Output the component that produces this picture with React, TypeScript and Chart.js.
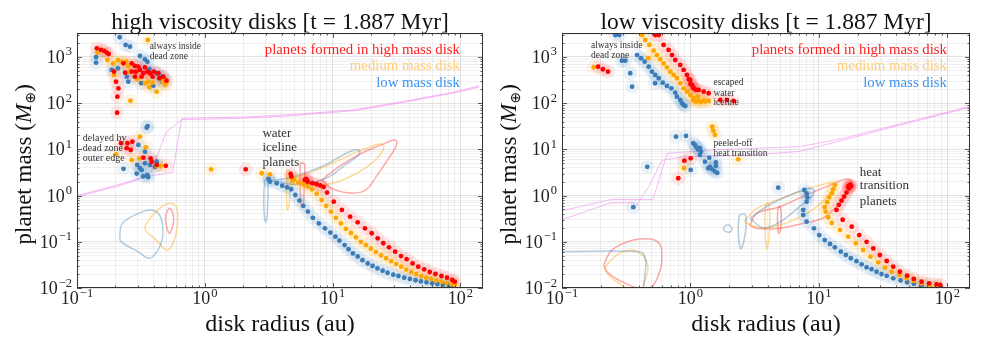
import React, { useEffect, useRef } from "react";
import { Chart, registerables } from "chart.js";
Chart.register(...registerables);

type P = [number, number];

// ---------- axes ----------
const X_MIN = 0.1;
const X_MAX = 150;
const Y_MIN = 0.01;
const Y_MAX = 3300;
const xTickExponents = [-1, 0, 1, 2];
const yTickExponents = [-2, -1, 0, 1, 2, 3];

const legendLabels = [
  { text: "planets formed in high mass disk", color: "#ff2020" },
  { text: "medium mass disk", color: "#ffcc77" },
  { text: "low mass disk", color: "#3b93ee" },
];

// ---------- high viscosity panel ----------
const hvRedPlanets: P[] = [
  [0.143, 1540], [0.154, 1420], [0.163, 1350], [0.171, 1240], [0.177, 1160], [0.231, 730], [0.268, 730],
  [0.284, 640], [0.238, 457], [0.268, 481], [0.289, 481], [0.311, 524], [0.33, 444], [0.355, 481],
  [0.372, 444], [0.284, 375], [0.32, 375], [0.4, 481], [0.433, 444], [0.473, 375], [0.501, 307],
  [0.441, 346], [0.195, 481], [0.202, 292], [0.211, 210], [0.207, 138], [0.206, 62], [0.302, 617],
  [0.34, 598], [0.39, 375],
  [0.221, 13.6], [0.248, 13.6], [0.271, 14.7], [0.245, 10.6], [0.263, 9.7], [0.33, 6.6], [0.377, 6.4],
  [0.384, 5.4], [0.42, 4.6], [0.495, 4.4],
  [2.09, 3.7], [4.69, 2.94], [4.75, 2.6],
  [6.05, 2.18], [6.2, 2.3], [6.3, 2.1], [6.4, 2.0], [6.95, 1.85], [7.5, 1.76], [8.0, 1.66], [8.5, 1.54],
  [9.03, 1.16], [10.2, 0.74], [11.8, 0.49], [13.7, 0.35], [15.7, 0.264], [17.9, 0.196], [20.2, 0.153],
  [22.5, 0.119], [24.9, 0.093], [27.6, 0.076], [30.8, 0.061], [34.3, 0.049], [37.9, 0.042], [42.2, 0.034],
  [46.7, 0.029], [52, 0.0254], [57.5, 0.0222], [63.7, 0.0201], [71, 0.0182], [78.5, 0.0167], [86.3, 0.0149],
  [90.2, 0.0137],
];
const hvOrangePlanets: P[] = [
  [0.145, 1240], [0.173, 860], [0.191, 730], [0.209, 860], [0.224, 790], [0.242, 790], [0.252, 640],
  [0.195, 408], [0.257, 481], [0.296, 329], [0.34, 270], [0.361, 292], [0.39, 278], [0.42, 177],
  [0.368, 221], [0.262, 113], [0.486, 270], [0.478, 318], [0.358, 2330], [0.49, 250], [0.47, 290],
  [0.311, 18.8], [0.346, 11.1], [0.202, 7.8], [0.268, 5.9], [0.308, 6.4], [0.42, 4.4], [0.451, 4.4],
  [1.12, 3.7], [2.79, 3.04], [3.23, 2.89], [4.8, 2.3], [4.9, 2.1], [5.0, 2.25],
  [5.4, 1.9], [5.9, 1.76], [6.4, 1.56], [6.9, 1.37], [7.5, 1.1], [8.2, 0.8], [8.9, 0.6], [9.7, 0.45],
  [10.6, 0.33], [11.6, 0.25], [12.7, 0.19], [13.9, 0.155], [15.2, 0.125], [16.6, 0.1], [18.2, 0.085],
  [19.9, 0.071], [21.8, 0.06], [23.9, 0.051], [26.2, 0.044], [28.7, 0.038], [31.4, 0.033], [34.4, 0.029],
  [37.6, 0.025], [41.2, 0.022], [45.1, 0.02], [49.4, 0.018], [54.1, 0.0166], [59.2, 0.0155], [64.8, 0.0145],
  [71, 0.0136], [77.7, 0.0128], [85, 0.0121], [90, 0.0117],
];
const hvBluePlanets: P[] = [
  [0.216, 2670], [0.24, 1820], [0.26, 1670], [0.141, 985], [0.141, 753], [0.311, 1050], [0.34, 890],
  [0.355, 790], [0.187, 524], [0.209, 569], [0.245, 375], [0.252, 292], [0.368, 542], [0.42, 444],
  [0.459, 375], [0.478, 346], [0.467, 292], [0.395, 239], [0.318, 270],
  [0.351, 29.5], [0.357, 32], [0.302, 12.5], [0.34, 8.9], [0.231, 3.8], [0.296, 4.6], [0.311, 3.9],
  [0.32, 3.6], [0.293, 3.0], [0.355, 2.8], [0.34, 5.0], [0.372, 4.6], [0.407, 4.2], [0.42, 5.4],
  [0.33, 2.6], [0.36, 2.5],
  [3.15, 2.3], [3.18, 2.18], [3.23, 2.0], [3.65, 1.85], [4.03, 1.64], [4.4, 1.51], [4.73, 1.37], [5.1, 1.03],
  [5.5, 0.78], [5.9, 0.6], [6.4, 0.45], [7.0, 0.33], [7.8, 0.25], [8.7, 0.196], [9.6, 0.158], [10.5, 0.129],
  [11.3, 0.106], [12.4, 0.085], [13.3, 0.069], [14.4, 0.056], [15.7, 0.048], [17.1, 0.04], [18.8, 0.034],
  [20.5, 0.03], [22.4, 0.0267], [24.6, 0.0237], [26.9, 0.0214], [29.8, 0.0194], [32.7, 0.0182], [36.3, 0.0167],
  [40.2, 0.0157], [44.5, 0.0147], [49, 0.0139], [54.2, 0.0133], [60, 0.0126], [66, 0.0122], [73, 0.0118],
  [81, 0.0114], [87.5, 0.011],
];
const hvRedContours: P[][] = [
  [[0.499, 0.414], [0.529, 0.531], [0.561, 0.414], [0.569, 0.272], [0.529, 0.153], [0.499, 0.231], [0.493, 0.323], [0.499, 0.414]],
  [[5.6, 5.0], [5.55, 2.0], [5.7, 0.55], [5.9, 0.7], [6.0, 2.0], [6.05, 4.5], [5.8, 5.2], [5.6, 5.0]],
  [[8.3, 2.2], [10, 3.4], [13, 5.5], [18, 9], [24, 12.5], [29, 15.5], [31.5, 15.5], [31, 11], [27, 6], [22, 2.6], [18, 1.3], [13, 1.15], [9.5, 1.5], [8.3, 2.2]],
];
const hvOrangeContours: P[][] = [
  [[0.338, 0.212], [0.381, 0.349], [0.443, 0.531], [0.529, 0.68], [0.597, 0.575], [0.614, 0.323], [0.597, 0.153], [0.546, 0.078], [0.499, 0.0665], [0.417, 0.109], [0.349, 0.166], [0.338, 0.212]],
  [[4.4, 3.6], [4.35, 1.5], [4.4, 0.49], [4.55, 0.6], [4.65, 1.5], [4.7, 3.2], [4.4, 3.6]],
  [[4.9, 2.4], [7, 3.3], [10, 5], [14, 7.8], [19, 11], [23, 13], [25, 12.4], [24.5, 9], [21, 5.5], [16, 3.2], [11, 2.0], [8, 1.7], [5.5, 1.9], [4.9, 2.4]],
];
const hvBlueContours: P[][] = [
  [[0.216, 0.109], [0.223, 0.231], [0.267, 0.349], [0.37, 0.488], [0.443, 0.38], [0.47, 0.166], [0.443, 0.078], [0.37, 0.044], [0.3, 0.061], [0.229, 0.093], [0.216, 0.109]],
  [[2.95, 2.2], [2.9, 1.2], [2.9, 0.5], [2.97, 0.27], [3.05, 0.3], [3.1, 0.6], [3.12, 1.5], [3.1, 2.2], [2.95, 2.2]],
  [[3.3, 2.1], [4.5, 2.4], [6.5, 3.3], [9, 4.8], [11.5, 7], [14, 9.2], [15.8, 9.8], [16.3, 8.5], [15, 6.5], [12, 4.2], [9.5, 2.6], [7, 1.9], [5, 1.75], [3.3, 2.1]],
];
const hvIceTracks: P[][] = [
  [[0.1, 1.0], [0.2, 1.65], [0.3, 2.3], [0.38, 2.7], [0.5, 3.0], [0.56, 3.2], [0.66, 47], [2, 50], [5, 57], [15, 72], [40, 115], [100, 185], [140, 240]],
  [[0.1, 0.95], [0.2, 1.55], [0.3, 2.2], [0.38, 3.3], [0.5, 24], [0.66, 44], [2, 47], [5, 54], [15, 69], [40, 110], [100, 178], [140, 225]],
];

// ---------- low viscosity panel ----------
const lvRedPlanets: P[] = [
  [0.191, 617], [0.208, 542], [0.228, 481],
  [0.532, 2990], [0.566, 2990], [0.618, 1820], [0.676, 1420], [0.718, 1100], [0.762, 860], [0.833, 672],
  [0.885, 524], [0.939, 408], [0.97, 330], [0.996, 318], [1.0, 260], [1.027, 248], [1.05, 220], [1.059, 210],
  [1.1, 195], [1.158, 193], [1.267, 177], [1.386, 164], [1.706, 117], [1.92, 117], [2.17, 112],
  [1.004, 6.4], [0.896, 5.7], [0.804, 2.37],
  [17.0, 1.65], [17.4, 1.56], [17.6, 1.72], [17.8, 1.6], [17.2, 1.45], [16.9, 1.5], [16.4, 1.16], [15.7, 0.95],
  [15.0, 0.78], [14.3, 0.63], [13.7, 0.49], [15.3, 0.3], [18.0, 0.212], [20.6, 0.14], [23.5, 0.1], [26.5, 0.072],
  [29.8, 0.0518], [33.7, 0.0384], [37.9, 0.0289], [42.7, 0.0225], [48.6, 0.0185], [54.8, 0.0157], [63, 0.0137],
  [72.1, 0.0126], [82.4, 0.012], [88, 0.0116],
];
const lvOrangePlanets: P[] = [
  [0.177, 598],
  [0.42, 2990], [0.445, 2330], [0.478, 1820], [0.47, 940], [0.517, 1370], [0.548, 1100], [0.582, 890],
  [0.618, 730], [0.656, 598], [0.697, 481], [0.74, 408], [0.785, 346], [0.833, 270], [0.885, 210], [0.939, 177],
  [0.996, 150], [1.059, 128], [1.143, 138], [1.05, 115], [1.1, 108], [1.158, 113], [1.2, 105], [1.267, 113],
  [1.3, 110], [1.386, 112],
  [1.478, 31], [1.504, 25.4], [1.552, 20.5], [2.355, 6.1], [0.89, 3.9],
  [13.3, 1.69], [12.9, 1.37], [12.6, 1.12], [12.0, 0.92], [11.6, 0.72], [11.1, 0.56], [11.3, 0.45], [11.8, 0.34],
  [12.6, 0.255], [14.6, 0.18], [16.9, 0.129], [19.4, 0.093], [22.1, 0.0665], [25.2, 0.0476], [28.9, 0.036],
  [32.6, 0.0275], [36.8, 0.0225], [42.2, 0.0191], [48.1, 0.0162], [54.8, 0.0142], [63, 0.0126], [72.1, 0.0116],
  [82.4, 0.0109],
];
const lvBluePlanets: P[] = [
  [0.293, 832], [0.311, 832], [0.34, 444], [0.351, 227], [0.26, 2990], [0.279, 2990],
  [0.384, 1100], [0.412, 937], [0.44, 790], [0.473, 617], [0.501, 481], [0.532, 408], [0.566, 346],
  [0.608, 278], [0.656, 236], [0.71, 210], [0.762, 169], [0.785, 138], [0.833, 117], [0.859, 99.5],
  [0.885, 91], [0.912, 87], [0.53, 270],
  [0.771, 18.8], [0.923, 19.5], [1.052, 13.6], [1.084, 12.5], [1.117, 11.1], [1.15, 10.0], [1.185, 10.6],
  [1.207, 8.9], [1.185, 7.6], [1.297, 5.4], [1.4, 6.6], [1.578, 5.2], [1.578, 4.4], [1.418, 4.2], [1.376, 3.9],
  [1.478, 3.7], [1.552, 3.3], [1.617, 3.1], [1.004, 3.6], [0.461, 4.2], [0.359, 0.56], [4.82, 1.48],
  [7.69, 1.32], [8.02, 1.12], [8.11, 0.92], [8.02, 0.74], [7.55, 0.49], [7.55, 0.38], [8.02, 0.272],
  [9.14, 0.196], [10.05, 0.14], [11.1, 0.109], [12.2, 0.09], [13.3, 0.076], [14.8, 0.061], [16.2, 0.0518],
  [17.7, 0.044], [19.6, 0.038], [21.5, 0.0326], [23.5, 0.028], [25.7, 0.0255], [28.1, 0.0225], [30.7, 0.02],
  [33.7, 0.0183], [37.9, 0.0162], [43.2, 0.0146], [48.6, 0.0133], [54.8, 0.0123], [63, 0.0115], [72.1, 0.0109],
  [82.4, 0.0104],
];
const lvRedContours: P[][] = [
  [[0.211, 0.0315], [0.245, 0.0665], [0.361, 0.109], [0.501, 0.113], [0.582, 0.085], [0.6, 0.0518], [0.582, 0.0245], [0.501, 0.0107], [0.395, 0.0099], [0.276, 0.0149], [0.224, 0.0225], [0.211, 0.0315]],
  [[4.8, 0.55], [4.75, 0.3], [4.85, 0.155], [5.0, 0.17], [5.1, 0.35], [5.0, 0.57], [4.8, 0.55]],
  [[2.9, 0.23], [3.27, 0.41], [4.97, 0.575], [8.0, 1.03], [11.5, 1.56], [15.5, 2.2], [17.4, 2.2], [18, 1.69], [16.4, 1.12], [13.7, 0.575], [10.7, 0.323], [7.55, 0.251], [4.97, 0.196], [3.27, 0.196], [2.9, 0.23]],
];
const lvOrangeContours: P[][] = [
  [[0.33, 0.0095], [0.245, 0.0162], [0.217, 0.0245], [0.22, 0.03], [0.268, 0.0518], [0.34, 0.0665], [0.42, 0.0518], [0.467, 0.0289], [0.445, 0.0149], [0.42, 0.0095]],
  [[3.85, 0.65], [3.8, 0.3], [3.9, 0.07], [4.05, 0.1], [4.15, 0.35], [4.05, 0.68], [3.85, 0.65]],
  [[2.6, 0.27], [3.3, 0.53], [5.9, 1.0], [9.5, 1.6], [12.9, 1.9], [13.6, 1.6], [12, 1.0], [8.5, 0.45], [5.0, 0.23], [3.5, 0.2], [2.6, 0.27]],
];
const lvBlueContours: P[][] = [
  [[0.1, 0.062], [0.39, 0.062], [0.43, 0.055], [0.45, 0.035], [0.44, 0.018], [0.43, 0.009]],
  [[1.8, 0.2], [1.95, 0.235], [2.1, 0.2], [2.05, 0.165], [1.85, 0.17], [1.8, 0.2]],
  [[2.4, 0.38], [2.35, 0.2], [2.45, 0.07], [2.6, 0.1], [2.72, 0.25], [2.65, 0.4], [2.4, 0.38]],
  [[2.9, 0.32], [3.9, 0.58], [5.95, 1.03], [8.5, 1.44], [9.2, 1.3], [8.8, 0.95], [7.1, 0.58], [5.0, 0.27], [3.7, 0.2], [2.9, 0.32]],
];
const lvIceTracks: P[][] = [
  [[0.1, 0.47], [0.24, 0.82], [0.51, 0.82], [0.66, 8.2], [1.5, 9.8], [3, 10.5], [7, 11.4], [15, 17], [35, 31], [80, 55], [150, 85]],
  [[0.1, 0.3], [0.24, 0.7], [0.36, 0.7], [0.37, 0.56], [0.47, 1.5], [0.6, 5.8], [0.9, 6.9], [3, 7.6], [7, 9], [15, 15.5], [35, 29], [80, 52], [150, 82]],
];

type Note = { text: string; x: number; y: number; size: number };
const hvNotes: Note[] = [
  { text: "always inside", x: 0.37, y: 1670, size: 9.5 },
  { text: "dead zone", x: 0.37, y: 1015, size: 9.5 },
  { text: "delayed by", x: 0.111, y: 17.4, size: 10 },
  { text: "dead zone", x: 0.111, y: 10.6, size: 10 },
  { text: "outer edge", x: 0.111, y: 6.4, size: 10 },
  { text: "water", x: 2.82, y: 22.3, size: 13 },
  { text: "iceline", x: 2.82, y: 10.9, size: 13 },
  { text: "planets", x: 2.82, y: 5.26, size: 13 },
];
const lvNotes: Note[] = [
  { text: "always inside", x: 0.168, y: 1730, size: 9.5 },
  { text: "dead zone", x: 0.168, y: 1050, size: 9.5 },
  { text: "escaped", x: 1.51, y: 278, size: 9.5 },
  { text: "water", x: 1.51, y: 164, size: 9.5 },
  { text: "iceline", x: 1.51, y: 103, size: 9.5 },
  { text: "peeled-off", x: 1.51, y: 13.6, size: 9.5 },
  { text: "heat transition", x: 1.51, y: 8.2, size: 9.5 },
  { text: "heat", x: 20.8, y: 3.13, size: 13 },
  { text: "transition", x: 20.8, y: 1.61, size: 13 },
  { text: "planets", x: 20.8, y: 0.74, size: 13 },
];

// ---------- rendering helpers ----------
const FONT = '"Liberation Serif", "Times New Roman", serif';
const RED = "#ff0000";
const ORANGE = "#ffa500";
const BLUE = "#3b7cb8";

const isPow = (v: number) => Math.abs(Math.log10(v) - Math.round(Math.log10(v))) < 1e-9;
function logTicks(min: number, max: number) {
  const out: number[] = [];
  for (let e = -3; e <= 4; e++)
    for (let m = 1; m <= 9; m++) {
      const v = parseFloat((m * Math.pow(10, e)).toPrecision(6));
      if (v >= min * 0.999 && v <= max * 1.001) out.push(v);
    }
  return out;
}
const pts = (a: P[]) => a.map(([x, y]) => ({ x, y }));

function drawPow(ctx: CanvasRenderingContext2D, e: number, x: number, y: number, align: "right" | "center") {
  const exp = e < 0 ? "\u2212" + Math.abs(e) : String(e);
  ctx.font = `18px ${FONT}`;
  const wb = ctx.measureText("10").width;
  ctx.font = `12.5px ${FONT}`;
  const we = ctx.measureText(exp).width;
  const total = wb + we + 1;
  const x0 = align === "right" ? x - total : x - total / 2;
  ctx.textAlign = "left";
  ctx.textBaseline = "alphabetic";
  ctx.font = `18px ${FONT}`;
  ctx.fillText("10", x0, y);
  ctx.font = `12.5px ${FONT}`;
  ctx.fillText(exp, x0 + wb + 1, y - 7.5);
}

type PanelCfg = {
  title: string;
  red: P[];
  orange: P[];
  blue: P[];
  redC: P[][];
  orangeC: P[][];
  blueC: P[][];
  ice: P[][];
  notes: Note[];
  padLeft: number;
  padRight: number;
};

function makePlugin(cfg: PanelCfg) {
  return {
    id: "panelDecor",
    afterDatasetsDraw(chart: any) {
      const { ctx, chartArea: a, scales } = chart;
      const xs = scales.x;
      const ys = scales.y;
      ctx.save();
      // frame
      ctx.strokeStyle = "#333";
      ctx.lineWidth = 1;
      ctx.strokeRect(a.left + 0.5, a.top + 0.5, a.right - a.left - 1, a.bottom - a.top - 1);
      // inward ticks
      ctx.lineWidth = 0.8;
      ctx.beginPath();
      for (const v of logTicks(X_MIN, X_MAX)) {
        const px = Math.round(xs.getPixelForValue(v)) + 0.5;
        const L = isPow(v) ? 5 : 2.5;
        ctx.moveTo(px, a.bottom);
        ctx.lineTo(px, a.bottom - L);
        ctx.moveTo(px, a.top);
        ctx.lineTo(px, a.top + L);
      }
      for (const v of logTicks(Y_MIN, Y_MAX)) {
        const py = Math.round(ys.getPixelForValue(v)) + 0.5;
        const L = isPow(v) ? 5 : 2.5;
        ctx.moveTo(a.left, py);
        ctx.lineTo(a.left + L, py);
        ctx.moveTo(a.right, py);
        ctx.lineTo(a.right - L, py);
      }
      ctx.stroke();
      // tick labels
      ctx.fillStyle = "#222";
      for (const e of xTickExponents) {
        const px = xs.getPixelForValue(Math.pow(10, e));
        drawPow(ctx, e, px, a.bottom + 16, "center");
      }
      for (const e of yTickExponents) {
        const py = ys.getPixelForValue(Math.pow(10, e));
        drawPow(ctx, e, a.left - 5, py + 6, "right");
      }
      // title
      ctx.fillStyle = "#111";
      ctx.textAlign = "center";
      ctx.textBaseline = "alphabetic";
      ctx.font = `23.5px ${FONT}`;
      ctx.fillText(cfg.title, (a.left + a.right) / 2, 29);
      // x title
      ctx.font = `24px ${FONT}`;
      ctx.fillText("disk radius (au)", (a.left + a.right) / 2, 331);
      // y title with italic M and subscript earth symbol
      ctx.save();
      const cy = (a.top + a.bottom) / 2 + 4;
      ctx.translate(a.left - 46, cy);
      ctx.rotate(-Math.PI / 2);
      const parts = [
        { t: "planet mass (", f: `23px ${FONT}`, dy: 0 },
        { t: "M", f: `italic 23px ${FONT}`, dy: 0 },
        { t: "\u2295", f: `14px "DejaVu Sans"`, dy: 4 },
        { t: ")", f: `23px ${FONT}`, dy: 0 },
      ];
      let total = 0;
      const widths = parts.map((p) => {
        ctx.font = p.f;
        const w = ctx.measureText(p.t).width;
        total += w;
        return w;
      });
      let xx = -total / 2;
      ctx.textAlign = "left";
      parts.forEach((p, i) => {
        ctx.font = p.f;
        ctx.fillText(p.t, xx, p.dy);
        xx += widths[i] + (i === 1 ? 0.5 : 0);
      });
      ctx.restore();
      // annotations
      ctx.fillStyle = "#333";
      ctx.textAlign = "left";
      ctx.textBaseline = "middle";
      for (const n of cfg.notes) {
        ctx.font = `${n.size}px ${FONT}`;
        ctx.fillText(n.text, xs.getPixelForValue(n.x), ys.getPixelForValue(n.y));
      }
      // legend-like labels
      ctx.textAlign = "right";
      ctx.font = `14.8px ${FONT}`;
      legendLabels.forEach((l, i) => {
        ctx.fillStyle = l.color;
        ctx.fillText(l.text, a.right - 23, a.top + 17 + i * 16.5);
      });
      ctx.restore();
    },
  };
}

function buildDatasets(cfg: PanelCfg) {
  const ds: any[] = [];
  cfg.ice.forEach((l) =>
    ds.push({ data: pts(l), showLine: true, borderColor: "rgba(238,130,238,0.55)", borderWidth: 1, pointRadius: 0, tension: 0, order: 9 })
  );
  const cont = (list: P[][], color: string) =>
    list.forEach((l) =>
      ds.push({ data: pts(l), showLine: true, borderColor: color, borderWidth: 1.5, pointRadius: 0, tension: 0.35, order: 8 })
    );
  cont(cfg.blueC, "rgba(70,130,180,0.4)");
  cont(cfg.orangeC, "rgba(255,165,0,0.4)");
  cont(cfg.redC, "rgba(255,40,40,0.4)");
  const series: [P[], string, string, number][] = [
    [cfg.blue, BLUE, "rgba(70,140,200,0.1)", 3],
    [cfg.orange, ORANGE, "rgba(255,165,0,0.1)", 2],
    [cfg.red, RED, "rgba(255,0,0,0.09)", 1],
  ];
  series.forEach(([d, c, halo]) =>
    ds.push({ data: pts(d), pointRadius: 7, pointBackgroundColor: halo, pointBorderWidth: 0, showLine: false, order: 6 })
  );
  series.forEach(([d, c, , o]) =>
    ds.push({ data: pts(d), pointRadius: 2.4, pointBackgroundColor: c, pointBorderWidth: 0, showLine: false, order: o })
  );
  return ds;
}

function Panel({ cfg, left, width }: { cfg: PanelCfg; left: number; width: number }) {
  const ref = useRef<HTMLCanvasElement>(null);
  useEffect(() => {
    const gridColor = (c: any) =>
      c.tick && isPow(c.tick.value) ? "rgba(0,0,0,0.11)" : "rgba(0,0,0,0.06)";
    const chart = new Chart(ref.current as HTMLCanvasElement, {
      type: "scatter",
      data: { datasets: buildDatasets(cfg) },
      options: {
        animation: false,
        responsive: false,
        devicePixelRatio: 1,
        events: [],
        layout: { padding: { left: cfg.padLeft, right: cfg.padRight, top: 33, bottom: 62 } },
        plugins: { legend: { display: false }, tooltip: { enabled: false }, title: { display: false } },
        scales: {
          x: {
            type: "logarithmic",
            min: X_MIN,
            max: X_MAX,
            ticks: { display: false },
            grid: { color: gridColor, drawTicks: false, lineWidth: 1 },
            border: { display: false },
            afterBuildTicks: (s: any) => {
              s.ticks = logTicks(X_MIN, X_MAX).map((v) => ({ value: v }));
            },
            afterFit: (s: any) => {
              s.height = 0;
            },
          },
          y: {
            type: "logarithmic",
            min: Y_MIN,
            max: Y_MAX,
            ticks: { display: false },
            grid: { color: gridColor, drawTicks: false, lineWidth: 1 },
            border: { display: false },
            afterBuildTicks: (s: any) => {
              s.ticks = logTicks(Y_MIN, Y_MAX).map((v) => ({ value: v }));
            },
            afterFit: (s: any) => {
              s.width = 0;
            },
          },
        },
      } as any,
      plugins: [makePlugin(cfg)],
    });
    return () => chart.destroy();
  }, []);
  return (
    <canvas
      ref={ref}
      width={width}
      height={350}
      style={{ position: "absolute", left, top: 0, width, height: 350 }}
    />
  );
}

const hvPanel: PanelCfg = {
  title: "high viscosity disks [t = 1.887 Myr]",
  red: hvRedPlanets,
  orange: hvOrangePlanets,
  blue: hvBluePlanets,
  redC: hvRedContours,
  orangeC: hvOrangeContours,
  blueC: hvBlueContours,
  ice: hvIceTracks,
  notes: hvNotes,
  padLeft: 77,
  padRight: 5,
};
const lvPanel: PanelCfg = {
  title: "low viscosity disks [t = 1.887 Myr]",
  red: lvRedPlanets,
  orange: lvOrangePlanets,
  blue: lvBluePlanets,
  redC: lvRedContours,
  orangeC: lvOrangeContours,
  blueC: lvBlueContours,
  ice: lvIceTracks,
  notes: lvNotes,
  padLeft: 72,
  padRight: 11,
};

export default function App() {
  return (
    <div style={{ position: "absolute", left: 0, top: 0, width: 981, height: 350, background: "#fff", overflow: "hidden" }}>
      <Panel cfg={hvPanel} left={0} width={490} />
      <Panel cfg={lvPanel} left={490} width={491} />
    </div>
  );
}
